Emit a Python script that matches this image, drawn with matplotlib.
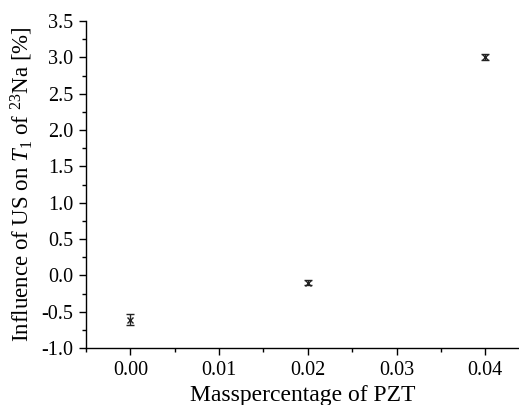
import matplotlib
matplotlib.use("Agg")
import matplotlib.pyplot as plt
from matplotlib.ticker import MultipleLocator

x_vals = [0.00, 0.02, 0.04]
y_vals = [-0.61, -0.10, 3.00]
y_err = [0.08, 0.03, 0.04]
x_ticks = [0.0, 0.01, 0.02, 0.03, 0.04]
x_ticklabels = ['0.00', '0.01', '0.02', '0.03', '0.04']
y_ticks = [-1.0, -0.5, 0.0, 0.5, 1.0, 1.5, 2.0, 2.5, 3.0, 3.5]
y_ticklabels = ['-1.0', '-0.5', '0.0', '0.5', '1.0', '1.5', '2.0', '2.5', '3.0', '3.5']

plt.rcParams['font.family'] = ['Liberation Serif', 'DejaVu Serif']
plt.rcParams['mathtext.fontset'] = 'custom'
plt.rcParams['mathtext.it'] = 'Liberation Serif:italic'
plt.rcParams['mathtext.rm'] = 'Liberation Serif'

fig = plt.figure(figsize=(5.19, 4.05), dpi=100)
ax = fig.add_axes([0.1657, 0.1407, 0.8343, 0.8074])
ax.errorbar(x_vals, y_vals, yerr=y_err, fmt='x', color='#222222', ms=4.5, mew=1.0,
            elinewidth=1.0, capsize=3, capthick=1.0)
ax.set_xlim(-0.005, 0.0438)
ax.set_ylim(-1.0, 3.5)
ax.xaxis.set_minor_locator(MultipleLocator(0.005))
ax.yaxis.set_minor_locator(MultipleLocator(0.25))
ax.set_xticks(x_ticks)
ax.set_xticklabels(x_ticklabels)
ax.set_yticks(y_ticks)
ax.set_yticklabels(y_ticklabels)
for s in ['top', 'right']:
    ax.spines[s].set_visible(False)
for s in ['left', 'bottom']:
    ax.spines[s].set_linewidth(1.0)
ax.tick_params(which='major', direction='out', length=5, width=1.0, labelsize=14.5, pad=4)
ax.tick_params(which='minor', direction='out', length=3, width=1.0)
ax.set_xlabel('Masspercentage of PZT', fontsize=17, labelpad=4)
ax.set_ylabel(r'Influence of US on $T_{\rm 1}$ of $^{23}$Na [%]', fontsize=16.5, labelpad=5)
fig.savefig('out.png', dpi=100)
